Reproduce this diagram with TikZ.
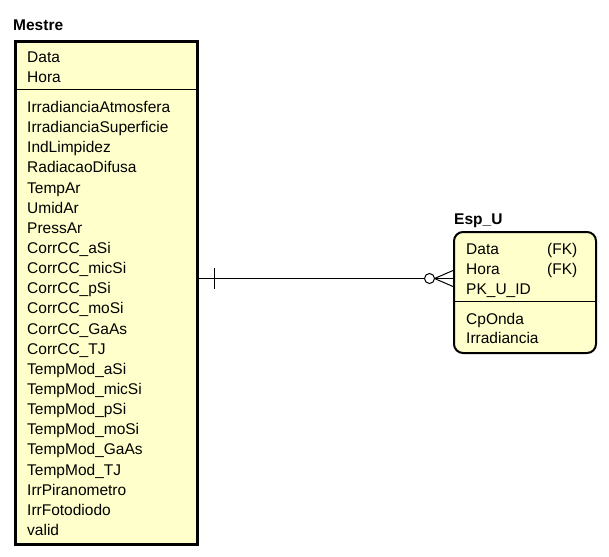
\documentclass[tikz,border=0pt]{standalone}
\usepackage{fontspec}
\setmainfont{Liberation Sans}
\definecolor{entfill}{RGB}{255,255,204}
\begin{document}
\begin{tikzpicture}[x=1pt,y=-1pt,
  attr/.style={anchor=base west,inner sep=0pt,font=\fontsize{15.5}{17}\selectfont},
  ttl/.style={anchor=base west,inner sep=0pt,font=\fontsize{15.5}{17}\selectfont\bfseries},
  entbox/.style={draw=black,fill=entfill,inner sep=0pt,anchor=north west},
  rel/.style={draw=black,line width=1pt}]
\useasboundingbox (0,0) rectangle (609,556);
% Mestre
\node[entbox,line width=3pt,minimum width=182.5pt,minimum height=502pt] (mestre) at (13.5,40.5) {};
\node[ttl] (tm) at (13,31) {Mestre};
\draw[line width=1pt] (mestre.west |- 0,89.5) -- (mestre.east |- 0,89.5);
\node[attr] (m1) at (27,62.5) {Data};
\node[attr] (m2) at (27,82.5) {Hora};
\foreach \t [count=\i from 0] in {IrradianciaAtmosfera,IrradianciaSuperficie,IndLimpidez,RadiacaoDifusa,TempAr,UmidAr,PressAr,CorrCC\_aSi,CorrCC\_micSi,CorrCC\_pSi,CorrCC\_moSi,CorrCC\_GaAs,CorrCC\_TJ,TempMod\_aSi,TempMod\_micSi,TempMod\_pSi,TempMod\_moSi,TempMod\_GaAs,TempMod\_TJ,IrrPiranometro,IrrFotodiodo,valid}
  \node[attr] (ma\i) at (27,{112.5+20.14*\i}) {\t};
% Esp_U
\node[entbox,line width=2pt,rounded corners=9pt,minimum width=142pt,minimum height=121pt] (esp) at (453,231) {};
\node[ttl] (te) at (454,224) {Esp\_U};
\draw[line width=1pt] (esp.west |- 0,301) -- (esp.east |- 0,301);
\node[attr] (e1) at (466,254.5) {Data};
\node[attr] (e1k) at (547,254.5) {(FK)};
\node[attr] (e2) at (466,274) {Hora};
\node[attr] (e2k) at (547,274) {(FK)};
\node[attr] (e3) at (466,294) {PK\_U\_ID};
\node[attr] (e4) at (466,324) {CpOnda};
\node[attr] (e5) at (466,343) {Irradiancia};
% relationship
\coordinate (ra) at (mestre.east |- 0,278.5);
\coordinate (rb) at (esp.west |- 0,278.5);
\coordinate (rt) at (214,278.5);
\coordinate (rc) at (429.5,278.5);
\coordinate (rf) at (434.5,278.5);
\draw[rel] (ra) -- (rc);
\draw[rel] (rt) ++(0,-10.5) -- ++(0,21);
\draw[rel,fill=white] (rc) circle (5pt);
\draw[rel] (rf) -- (rb);
\draw[rel] (rf) -- (esp.west |- 0,270.5);
\draw[rel] (rf) -- (esp.west |- 0,286.5);
\end{tikzpicture}
\end{document}
